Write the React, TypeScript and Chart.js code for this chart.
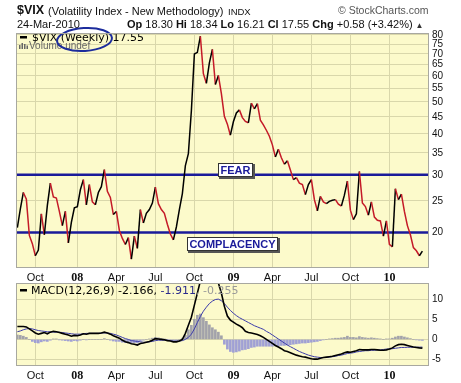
import React, { useEffect, useRef } from "react";
import { Chart, registerables } from "chart.js";

Chart.register(...registerables);

// ---------- data (weekly bars, index 0 = week of 24-Aug-2007) ----------
const vixWeekly = [
  20.7, 23.6, 26.5, 25.3, 19.6, 18.5, 17.0, 17.7, 22.8, 19.7,
  24.2, 28.3, 25.7, 25.5, 23.2, 21.0, 23.2, 18.6, 21.5, 23.8,
  24.0, 27.0, 29.0, 24.3, 28.0, 24.8, 24.3, 26.5, 27.6, 31.1,
  26.7, 25.6, 22.7, 23.2, 20.3, 19.2, 18.4, 19.3, 16.6, 19.5,
  17.9, 23.5, 21.4, 22.9, 23.5, 24.6, 27.5, 24.5, 23.5, 22.9,
  21.2, 19.8, 19.0, 20.8, 23.5, 26.3, 32.0, 34.8, 47.0, 70.0,
  70.8, 79.3, 61.0, 57.0, 65.8, 72.3, 56.5, 60.2, 53.0, 45.2,
  42.8, 39.6, 43.5, 46.3, 47.3, 44.8, 43.6, 43.2, 49.6, 47.6,
  49.4, 44.0, 42.6, 41.0, 39.3, 37.0, 34.0, 35.9, 33.8, 32.3,
  33.1, 31.0, 29.0, 29.4, 28.3, 28.0, 26.1, 28.0, 29.0, 25.2,
  23.3, 25.8, 24.8, 24.5, 24.9, 25.1, 25.2, 24.4, 24.1, 26.0,
  28.7, 23.4, 21.9, 22.8, 30.7, 24.6, 24.0, 22.6, 24.8, 22.3,
  21.8, 21.7, 19.5, 21.7, 18.4, 18.1, 27.2, 25.2, 26.2, 23.2,
  21.0, 19.7, 18.0, 17.6, 17.0, 17.55,
];

const macdLine = [
  3.2, 3.2, 3.2, 3.1, 2.6, 2.1, 1.6, 1.3, 1.5, 1.7,
  1.4, 1.8, 2.0, 1.9, 1.7, 1.5, 1.3, 1.1, 0.8, 1.0,
  0.9, 1.1, 1.4, 1.3, 1.5, 1.5, 1.5, 1.5, 1.6, 1.8,
  1.6, 1.3, 0.9, 0.6, 0.3, -0.2, -0.6, -0.8, -1.1, -1.2,
  -1.4, -1.0, -0.9, -0.7, -0.5, -0.2, 0.2, 0.1, 0.0, -0.1,
  -0.3, -0.4, -0.6, -0.6, -0.4, 0.0, 1.5, 3.5, 5.5, 8.5,
  11.5, 14.5, 16.0, 16.5, 16.5, 16.0, 15.2, 14.0, 11.5, 8.2,
  5.8, 4.8, 4.3, 3.8, 3.4, 2.9, 2.0, 1.7, 1.6, 1.4,
  1.2, 0.9, 0.5, 0.0, -0.5, -1.0, -1.5, -1.9, -2.3, -2.8,
  -3.0, -3.3, -3.6, -3.9, -4.1, -4.3, -4.4, -4.6, -4.8, -4.9,
  -4.9, -4.7, -4.5, -4.4, -4.3, -4.2, -4.0, -3.8, -3.6, -3.3,
  -3.1, -3.2, -3.0, -2.8, -2.5, -2.6, -2.6, -2.6, -2.5, -2.5,
  -2.6, -2.7, -2.7, -2.6, -2.4, -2.1, -1.6, -1.3, -1.2, -1.3,
  -1.5, -1.7, -1.9, -2.0, -2.1, -2.166,
];

const signalLine = [
  1.9, 2.1, 2.4, 2.6, 2.7, 2.6, 2.4, 2.2, 2.1, 2.0,
  1.9, 1.9, 1.8, 1.8, 1.8, 1.7, 1.6, 1.5, 1.4, 1.3,
  1.3, 1.3, 1.4, 1.5, 1.5, 1.5, 1.5, 1.5, 1.6, 1.6,
  1.6, 1.5, 1.3, 1.1, 0.8, 0.5, 0.2, 0.0, -0.3, -0.4,
  -0.5, -0.6, -0.7, -0.7, -0.6, -0.5, -0.3, -0.2, -0.2, -0.2,
  -0.2, -0.3, -0.4, -0.4, -0.4, -0.3, 0.0, 0.5, 1.3, 2.6,
  4.2, 5.7, 7.0, 8.0, 8.9, 9.5, 9.9, 10.0, 9.6, 8.9,
  8.0, 7.2, 6.5, 5.9, 5.4, 5.0, 4.6, 4.2, 3.8, 3.4,
  3.1, 2.8, 2.5, 2.0, 1.6, 1.1, 0.6, 0.1, -0.4, -0.9,
  -1.4, -1.8, -2.2, -2.6, -3.0, -3.3, -3.6, -3.9, -4.1, -4.3,
  -4.4, -4.5, -4.5, -4.5, -4.4, -4.3, -4.2, -4.0, -3.9, -3.7,
  -3.5, -3.4, -3.3, -3.1, -3.0, -2.9, -2.8, -2.8, -2.7, -2.7,
  -2.6, -2.6, -2.5, -2.4, -2.4, -2.3, -2.2, -2.1, -2.0, -2.0,
  -1.95, -1.95, -1.93, -1.92, -1.92, -1.911,
];

const macdHist = [
  1.1, 1.0, 0.8, 0.5, 0.0, -0.5, -0.8, -0.9, -0.6, -0.4,
  -0.5, -0.2, 0.1, 0.1, -0.1, -0.2, -0.3, -0.4, -0.5, -0.3,
  -0.4, -0.2, 0.0, -0.1, 0.0, 0.0, 0.0, 0.0, 0.0, 0.2,
  0.0, -0.2, -0.4, -0.5, -0.5, -0.7, -0.8, -0.8, -0.8, -0.8,
  -0.9, -0.4, -0.2, 0.0, 0.1, 0.3, 0.5, 0.4, 0.2, 0.1,
  -0.1, -0.1, -0.2, -0.2, 0.0, 0.3, 1.0, 2.4, 3.5, 5.0,
  6.0, 6.3, 5.4, 4.5, 3.6, 2.9, 2.4, 1.8, 0.9, -1.2,
  -2.4, -3.0, -3.2, -3.1, -2.9, -2.6, -2.5, -2.3, -2.0, -1.9,
  -1.7, -1.7, -1.7, -1.7, -1.7, -1.7, -1.6, -1.6, -1.5, -1.5,
  -1.4, -1.3, -1.2, -1.1, -1.0, -0.9, -0.9, -0.8, -0.7, -0.6,
  -0.5, -0.3, -0.1, 0.0, 0.1, 0.2, 0.3, 0.3, 0.4, 0.5,
  0.8, 0.5, 0.5, 0.4, 0.7, 0.5, 0.4, 0.3, 0.4, 0.3,
  0.2, 0.1, 0.0, 0.1, 0.1, 0.3, 0.6, 0.8, 0.8, 0.6,
  0.4, 0.2, 0.0, -0.1, -0.2, -0.255,
];

// x-axis ticks: first weekly bar of each quarter
const tickWeeks = [6, 20, 33, 46, 59, 72, 85, 98, 111, 124];
const tickLabels = ["Oct", "08", "Apr", "Jul", "Oct", "09", "Apr", "Jul", "Oct", "10"];
const vixTicks = [20, 25, 30, 35, 40, 45, 50, 55, 60, 65, 70, 75, 80];
const macdTicks = [-5, 0, 5, 10];
const fearLevel = 30;
const complacencyLevel = 20;

// ---------- styles ----------
const SANS = '"Liberation Sans", Arial, sans-serif';
const DEJAVU = '"DejaVu Sans", Verdana, sans-serif';
const SERIF = '"Liberation Serif", "Times New Roman", serif';
const PLOT_BG = "#fcfacb";
const GRID = "#d9d7ab";
const BORDER = "#a8a8a0";
const LEVEL = "#1a1a9a";
const UP = "#000000";
const DOWN = "#c41a28";
const X_MIN = -0.45;
const X_MAX = 137.2;

const isYear = (s: string) => /^\d+$/.test(s);

const xScale = (height: number) => ({
  type: "linear",
  min: X_MIN,
  max: X_MAX,
  offset: false,
  afterBuildTicks: (s: any) => {
    s.ticks = tickWeeks.map((v) => ({ value: v }));
  },
  afterFit: (s: any) => {
    s.height = height;
  },
  grid: { color: GRID, drawTicks: false, lineWidth: 1, offset: false },
  border: { display: false },
  ticks: {
    autoSkip: false,
    maxRotation: 0,
    padding: 3,
    color: "#111",
    callback: (_v: any, i: number) => tickLabels[i],
    font: (ctx: any) =>
      isYear(tickLabels[ctx.index] || "")
        ? { family: SERIF, size: 12, weight: "bold" }
        : { family: SANS, size: 11 },
  },
});

function fillPlot(chart: any) {
  const { ctx, chartArea: a } = chart;
  ctx.save();
  ctx.fillStyle = PLOT_BG;
  ctx.fillRect(a.left, a.top, a.right - a.left, a.bottom - a.top);
  ctx.restore();
}

function strokePlot(chart: any) {
  const { ctx, chartArea: a } = chart;
  ctx.save();
  ctx.strokeStyle = BORDER;
  ctx.lineWidth = 1;
  ctx.strokeRect(a.left + 0.5, a.top + 0.5, a.right - a.left - 1, a.bottom - a.top - 1);
  ctx.restore();
}

function drawTag(ctx: any, text: string, cx: number, top: number) {
  ctx.save();
  ctx.font = `bold 11px ${SANS}`;
  const w = Math.round(ctx.measureText(text).width) + 5;
  const h = 14;
  const left = Math.round(cx - w / 2);
  ctx.fillStyle = "#555";
  ctx.fillRect(left + 1, top + 1, w + 1, h + 1);
  ctx.fillStyle = "#ffffff";
  ctx.fillRect(left, top, w, h);
  ctx.strokeStyle = "#333";
  ctx.lineWidth = 1;
  ctx.strokeRect(left + 0.5, top + 0.5, w - 1, h - 1);
  ctx.fillStyle = LEVEL;
  ctx.textAlign = "center";
  ctx.textBaseline = "alphabetic";
  ctx.fillText(text, left + w / 2, top + 11);
  ctx.restore();
}

const mainDecor = {
  id: "mainDecor",
  beforeDraw: (chart: any) => fillPlot(chart),
  beforeDatasetsDraw: (chart: any) => {
    const { ctx, chartArea: a, scales } = chart;
    ctx.save();
    ctx.strokeStyle = LEVEL;
    ctx.lineWidth = 2.5;
    for (const lv of [fearLevel, complacencyLevel]) {
      const y = scales.y.getPixelForValue(lv);
      ctx.beginPath();
      ctx.moveTo(a.left, y);
      ctx.lineTo(a.right, y);
      ctx.stroke();
    }
    ctx.restore();
  },
  afterDatasetsDraw: (chart: any) => {
    const { ctx, chartArea: a, scales } = chart;
    const yFear = scales.y.getPixelForValue(fearLevel);
    const yComp = scales.y.getPixelForValue(complacencyLevel);
    drawTag(ctx, "FEAR", a.left + 219, Math.round(yFear) - 12);
    drawTag(ctx, "COMPLACENCY", a.left + 216, Math.round(yComp) + 4);

    ctx.save();
    // legend
    ctx.fillStyle = "#000";
    ctx.fillRect(a.left + 4, a.top + 3, 7, 2.5);
    ctx.font = `11px ${DEJAVU}`;
    ctx.textBaseline = "alphabetic";
    ctx.fillText("$VIX (Weekly) 17.55", a.left + 16, a.top + 8);
    ctx.fillStyle = "#666";
    ctx.fillRect(a.left + 3, a.top + 12, 1.5, 4);
    ctx.fillRect(a.left + 5.5, a.top + 10, 1.5, 6);
    ctx.fillRect(a.left + 8, a.top + 11, 1.5, 5);
    ctx.fillRect(a.left + 10.5, a.top + 12.5, 1.5, 3.5);
    ctx.font = `10px ${SANS}`;
    ctx.fillText("Volume undef", a.left + 13, a.top + 16);
    // hand-drawn ellipse around "(Weekly)"
    ctx.strokeStyle = "#1c2c9c";
    ctx.lineWidth = 2;
    ctx.beginPath();
    ctx.ellipse(a.left + 68.5, a.top + 6.5, 27.5, 11.5, -0.06, 0, Math.PI * 2);
    ctx.stroke();
    ctx.restore();
    strokePlot(chart);
  },
};

const macdDecor = {
  id: "macdDecor",
  beforeDraw: (chart: any) => fillPlot(chart),
  afterDatasetsDraw: (chart: any) => {
    const { ctx, chartArea: a } = chart;
    ctx.save();
    ctx.fillStyle = "#000";
    ctx.fillRect(a.left + 4, a.top + 6, 7, 2.5);
    ctx.font = `11px ${DEJAVU}`;
    ctx.textBaseline = "alphabetic";
    let x = a.left + 15;
    const y = a.top + 11;
    const parts: [string, string][] = [
      ["MACD(12,26,9) -2.166, ", "#000"],
      ["-1.911", "#2a2a8c"],
      [", -0.255", "#999"],
    ];
    for (const [t, c] of parts) {
      ctx.fillStyle = c;
      ctx.fillText(t, x, y);
      x += ctx.measureText(t).width;
    }
    ctx.restore();
    strokePlot(chart);
  },
};

function mainConfig(): any {
  return {
    type: "line",
    data: {
      datasets: [
        {
          data: vixWeekly.map((v, i) => ({ x: i, y: v })),
          borderColor: UP,
          borderWidth: 1.5,
          pointRadius: 0,
          tension: 0,
          segment: {
            borderColor: (c: any) => (c.p1.parsed.y >= c.p0.parsed.y ? UP : DOWN),
          },
        },
      ],
    },
    options: {
      animation: false,
      responsive: false,
      devicePixelRatio: 1,
      layout: { padding: { left: 16, top: 33, right: 0, bottom: 0 } },
      plugins: { legend: { display: false }, tooltip: { enabled: false } },
      scales: {
        x: xScale(15),
        y: {
          type: "logarithmic",
          position: "right",
          min: 15.6,
          max: 81.1,
          afterBuildTicks: (s: any) => {
            s.ticks = vixTicks.map((v) => ({ value: v }));
          },
          afterFit: (s: any) => {
            s.width = 32;
          },
          grid: { color: GRID, drawTicks: false },
          border: { display: false },
          ticks: {
            autoSkip: false,
            padding: 3,
            color: "#111",
            font: { family: SANS, size: 10 },
            callback: (v: any) => String(v),
          },
        },
      },
    },
    plugins: [mainDecor],
  };
}

function macdConfig(): any {
  return {
    type: "line",
    data: {
      datasets: [
        {
          type: "line",
          data: macdLine.map((v, i) => ({ x: i, y: v })),
          borderColor: "#000",
          borderWidth: 1.6,
          pointRadius: 0,
          tension: 0,
          order: 0,
        },
        {
          type: "line",
          data: signalLine.map((v, i) => ({ x: i, y: v })),
          borderColor: "#3b3baa",
          borderWidth: 1,
          pointRadius: 0,
          tension: 0,
          order: 1,
        },
        {
          type: "bar",
          data: macdHist.map((v, i) => ({ x: i, y: v })),
          backgroundColor: (c: any) => ((c.raw && c.raw.y >= 0) ? "#a2a2aa" : "#a0a0d4"),
          barThickness: 2,
          grouped: false,
          order: 2,
        },
      ],
    },
    options: {
      animation: false,
      responsive: false,
      devicePixelRatio: 1,
      layout: { padding: { left: 16, top: 10, right: 0, bottom: 0 } },
      plugins: { legend: { display: false }, tooltip: { enabled: false } },
      scales: {
        x: xScale(17),
        y: {
          type: "linear",
          position: "right",
          min: -6.6,
          max: 14,
          afterBuildTicks: (s: any) => {
            s.ticks = macdTicks.map((v) => ({ value: v }));
          },
          afterFit: (s: any) => {
            s.width = 32;
          },
          grid: { color: GRID, drawTicks: false },
          border: { display: false },
          ticks: {
            autoSkip: false,
            padding: 3,
            color: "#111",
            font: { family: SANS, size: 10 },
            callback: (v: any) => String(v),
          },
        },
      },
    },
    plugins: [macdDecor],
  };
}

const txt = (left: number, baseline: number, size: number, extra: any = {}) => ({
  position: "absolute" as const,
  left,
  top: baseline - size * 0.85,
  fontSize: size,
  lineHeight: 1,
  whiteSpace: "nowrap" as const,
  fontFamily: SANS,
  color: "#111",
  ...extra,
});

export default function App() {
  const mainRef = useRef<HTMLCanvasElement>(null);
  const macdRef = useRef<HTMLCanvasElement>(null);

  useEffect(() => {
    const c1 = new Chart(mainRef.current as HTMLCanvasElement, mainConfig());
    const c2 = new Chart(macdRef.current as HTMLCanvasElement, macdConfig());
    return () => {
      c1.destroy();
      c2.destroy();
    };
  }, []);

  return (
    <div
      style={{
        position: "absolute",
        left: 0,
        top: 0,
        width: 461,
        height: 383,
        background: "#fff",
        overflow: "hidden",
      }}
    >
      <canvas
        ref={mainRef}
        width={461}
        height={283}
        style={{ position: "absolute", left: 0, top: 0, width: 461, height: 283 }}
      />
      <canvas
        ref={macdRef}
        width={461}
        height={110}
        style={{ position: "absolute", left: 0, top: 273, width: 461, height: 110 }}
      />
      <span style={txt(17, 15, 12.5, { fontWeight: "bold" })}>$VIX</span>
      <span style={txt(48, 15, 11)}>(Volatility Index - New Methodology)</span>
      <span style={txt(228, 15, 9.5)}>INDX</span>
      <span style={txt(338, 14, 10.5, { color: "#555" })}>© StockCharts.com</span>
      <span style={txt(17, 28, 11)}>24-Mar-2010</span>
      <span style={txt(127, 28, 11)}>
        <b>Op</b> 18.30 <b>Hi</b> 18.34 <b>Lo</b> 16.21 <b>Cl</b> 17.55 <b>Chg</b> +0.58 (+3.42%)
        <span style={{ fontSize: 8, marginLeft: 3, color: "#333" }}>▲</span>
      </span>
    </div>
  );
}
